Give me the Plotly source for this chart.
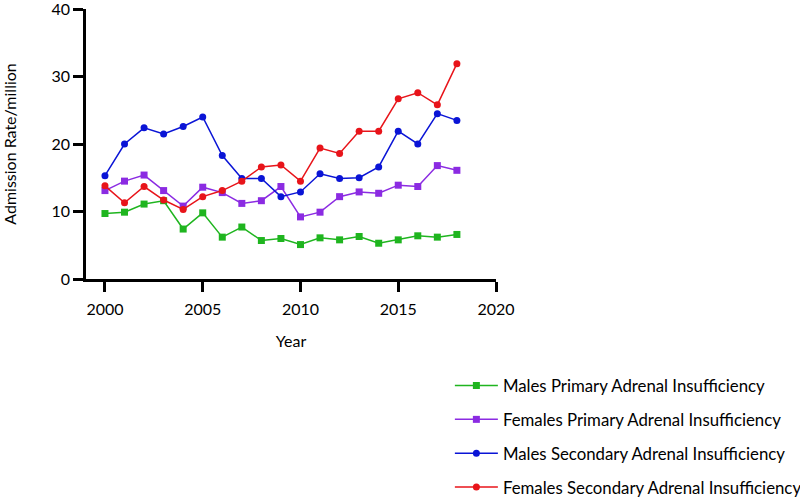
import plotly.graph_objects as go

years = list(range(2000, 2019))
males_primary = [9.7, 9.9, 11.1, 11.6, 7.4, 9.8, 6.2, 7.7, 5.7, 6.0, 5.1, 6.1, 5.8, 6.3, 5.3, 5.8, 6.4, 6.2, 6.6]
females_primary = [13.1, 14.5, 15.4, 13.1, 10.8, 13.6, 12.8, 11.2, 11.6, 13.7, 9.2, 9.9, 12.2, 12.9, 12.7, 13.9, 13.7, 16.8, 16.1]
males_secondary = [15.3, 20.0, 22.4, 21.5, 22.6, 24.0, 18.3, 14.9, 14.9, 12.2, 12.9, 15.6, 14.9, 15.0, 16.6, 21.9, 20.0, 24.5, 23.5]
females_secondary = [13.8, 11.3, 13.7, 11.7, 10.3, 12.2, 13.1, 14.5, 16.6, 16.9, 14.5, 19.4, 18.6, 21.9, 21.9, 26.7, 27.6, 25.8, 31.9]

series = [
    ("Males Primary Adrenal Insufficiency", males_primary, "#1fb51f", "square"),
    ("Females Primary Adrenal Insufficiency", females_primary, "#8b2be2", "square"),
    ("Males Secondary Adrenal Insufficiency", males_secondary, "#0a14d6", "circle"),
    ("Females Secondary Adrenal Insufficiency", females_secondary, "#e8141a", "circle"),
]

FONT = "Lato"
fig = go.Figure()
for i, (name, vals, col, sym) in enumerate(series):
    fig.add_trace(go.Scatter(
        x=years, y=vals, name=name, mode="lines+markers",
        line=dict(color=col, width=1.5),
        marker=dict(symbol=sym, size=7, color=col),
        legendgroup=f"g{i}",
    ))

fig.update_layout(
    width=800, height=497,
    margin=dict(l=86, r=304, t=9, b=218, autoexpand=False),
    paper_bgcolor="white", plot_bgcolor="white",
    font=dict(family=FONT, size=16, color="black"),
    showlegend=True,
    legend=dict(
        x=0.8875, y=-0.33, xanchor="left", yanchor="top",
        font=dict(family=FONT, size=16.8, color="black"),
        tracegroupgap=9, itemwidth=43, bgcolor="rgba(0,0,0,0)",
    ),
    xaxis=dict(
        range=[1999.03, 2020], tickvals=[2000, 2005, 2010, 2015, 2020],
        showgrid=False, zeroline=False, showline=True, linecolor="black", linewidth=2.5,
        ticks="outside", ticklen=10, tickwidth=2.5, tickcolor="black",
        ticklabelstandoff=4,
        title=dict(text="Year", standoff=19, font=dict(size=16)),
        tickfont=dict(size=16),
    ),
    yaxis=dict(
        range=[0, 40], tickvals=[0, 10, 20, 30, 40],
        showgrid=False, zeroline=False, showline=True, linecolor="black", linewidth=2.5,
        ticks="outside", ticklen=10, tickwidth=2.5, tickcolor="black",
        ticklabeloverflow="allow",
        title=dict(text="Admission Rate/million", standoff=34, font=dict(size=16)),
        tickfont=dict(size=16),
    ),
)

fig.write_html("out.html", config={"displayModeBar": False},
               post_script="document.body.style.margin='0';")
